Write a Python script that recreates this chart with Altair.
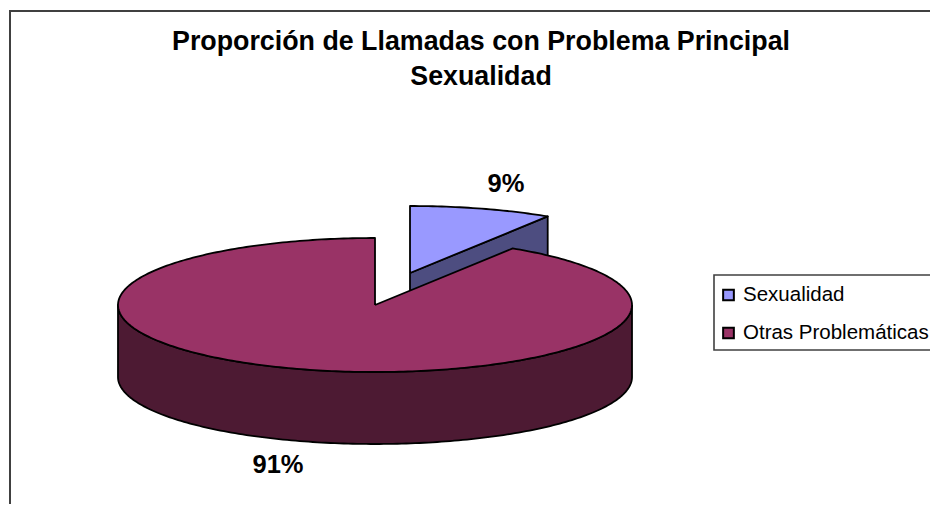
import math
import altair as alt
import pandas as pd

categories = ["Sexualidad", "Otras Problemáticas"]
shares = [9, 91]
labels = ["9%", "91%"]
title_lines = ["Proporción de Llamadas con Problema Principal", "Sexualidad"]
top_colors = ["#9999FF", "#993366"]
side_colors = ["#4D4D80", "#4D1A33"]

W, H = 922, 496
CX, CY, RX, RY, DEPTH = 367, 297, 257, 67, 72
EX, EY = 35, -32
STEP = 1.0


def rim(t0, t1, cx, cy):
    n = max(2, int(abs(t1 - t0) / STEP) + 1)
    return [
        (
            cx + RX * math.sin(math.radians(t0 + (t1 - t0) * i / (n - 1))),
            cy - RY * math.cos(math.radians(t0 + (t1 - t0) * i / (n - 1))),
        )
        for i in range(n)
    ]


sweep = shares[0] / sum(shares) * 360
small_cx, small_cy = CX + EX, CY + EY

polys = []


def add(name, layer, pts):
    closed = pts + [pts[0]]
    for k, (x, y) in enumerate(closed):
        polys.append({"poly": name, "layer": layer, "k": k, "x": x, "y": y})


# small slice: cut-edge side face, then top
sa = rim(0, sweep, small_cx, small_cy)
end = sa[-1]
add("s_side", 0, [(small_cx, small_cy), end, (end[0], end[1] + DEPTH), (small_cx, small_cy + DEPTH)])
add("s_top", 1, [(small_cx, small_cy)] + sa)
# large slice: visible outer wall, then top
wall = rim(90, 270, CX, CY)
add("b_side", 2, wall + [(x, y + DEPTH) for x, y in reversed(wall)])
add("b_top", 3, [(CX, CY)] + rim(sweep, 360, CX, CY))

df = pd.DataFrame(polys)
poly_colors = {"s_side": side_colors[0], "s_top": top_colors[0], "b_side": side_colors[1], "b_top": top_colors[1]}
xs = alt.Scale(domain=[0, W], range=[0, W])
ys = alt.Scale(domain=[0, H], range=[0, H])


def poly_chart(name):
    return (
        alt.Chart(df[df.poly == name])
        .mark_line(fill=poly_colors[name], stroke="#000000", strokeWidth=1.8, strokeJoin="round", clip=True)
        .encode(
            x=alt.X("x:Q", scale=xs, axis=None),
            y=alt.Y("y:Q", scale=ys, axis=None),
            order="k:Q",
        )
    )


layers = [poly_chart(n) for n in ["s_side", "s_top", "b_side", "b_top"]]

frame = (
    alt.Chart(pd.DataFrame({"x": [2], "x2": [W + 20], "y": [3], "y2": [H + 20]}))
    .mark_rect(fill="#FFFFFF", stroke="#404040", strokeWidth=2, clip=True)
    .encode(
        x=alt.X("x:Q", scale=xs, axis=None),
        x2="x2:Q",
        y=alt.Y("y:Q", scale=ys, axis=None),
        y2="y2:Q",
    )
)

title_df = pd.DataFrame({"t": title_lines, "x": [473, 473], "y": [34, 69]})
title = (
    alt.Chart(title_df)
    .mark_text(font="Liberation Sans", fontWeight="bold", fontSize=26.8, color="#000000", baseline="middle")
    .encode(x=alt.X("x:Q", scale=xs, axis=None), y=alt.Y("y:Q", scale=ys, axis=None), text="t:N")
)

lab_df = pd.DataFrame({"t": labels, "x": [498, 270], "y": [176, 457]})
lab = (
    alt.Chart(lab_df)
    .mark_text(font="Liberation Sans", fontWeight="bold", fontSize=25.5, color="#000000", baseline="middle")
    .encode(x=alt.X("x:Q", scale=xs, axis=None), y=alt.Y("y:Q", scale=ys, axis=None), text="t:N")
)

legbox = (
    alt.Chart(pd.DataFrame({"x": [706], "x2": [W + 20], "y": [267], "y2": [342]}))
    .mark_rect(fill="#FFFFFF", stroke="#404040", strokeWidth=1.6, clip=True)
    .encode(x=alt.X("x:Q", scale=xs, axis=None), x2="x2:Q", y=alt.Y("y:Q", scale=ys, axis=None), y2="y2:Q")
)
leg_df = pd.DataFrame({"cat": categories, "color": top_colors, "sx": [720.5, 720.5], "y": [287, 325], "tx": [735, 735]})
legsym = (
    alt.Chart(leg_df)
    .mark_square(size=115, stroke="#000000", strokeWidth=2, opacity=1)
    .encode(
        x=alt.X("sx:Q", scale=xs, axis=None),
        y=alt.Y("y:Q", scale=ys, axis=None),
        fill=alt.Fill("color:N", scale=None),
    )
)
legtext = (
    alt.Chart(leg_df)
    .mark_text(font="Liberation Sans", fontSize=20.5, align="left", baseline="middle", color="#000000")
    .encode(x=alt.X("tx:Q", scale=xs, axis=None), y=alt.Y("y:Q", scale=ys, axis=None), text="cat:N")
)

chart = (
    alt.layer(frame, *layers, title, lab, legbox, legsym, legtext)
    .properties(width=W, height=H, padding=0, autosize=alt.AutoSizeParams(type="none"), background="#FFFFFF")
    .configure_view(stroke=None)
)
chart.save("out.html", embed_options={"renderer": "svg", "actions": False})
